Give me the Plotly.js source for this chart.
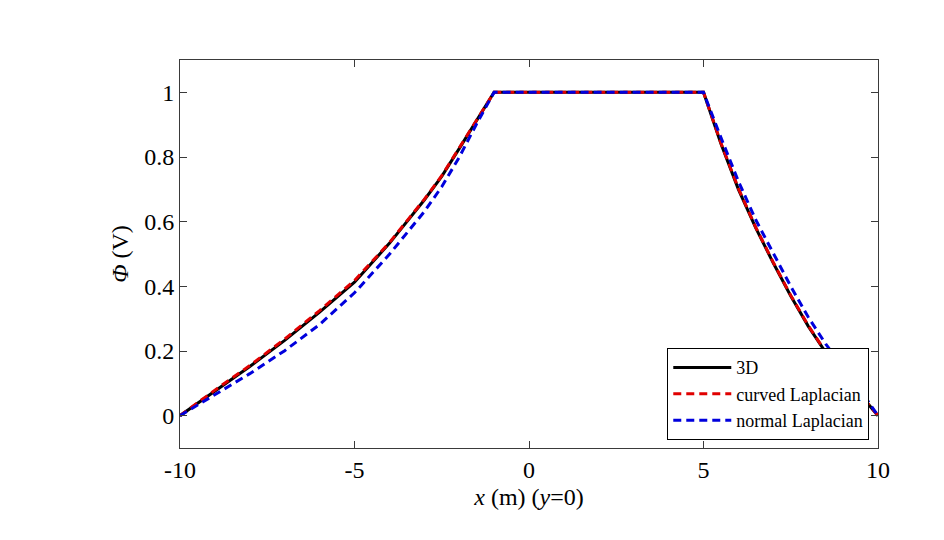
<!DOCTYPE html>
<html>
<head>
<meta charset="utf-8">
<script src="https://cdn.plot.ly/plotly-3.0.1.min.js"></script>
<style>
  html, body { margin: 0; padding: 0; background: #fff; }
  #chart { width: 944px; height: 540px; }
</style>
</head>
<body>
<div id="chart"></div>
<script>
// values
var x3d = [-10, -9, -8, -7, -6, -5, -4, -3, -2.5, -2, -1.5, -1, 5, 5.5, 6, 6.5, 7, 7.5, 8, 8.5, 9, 9.5, 10];
var phi3d = [0, 0.077, 0.152, 0.233, 0.32, 0.413, 0.533, 0.667, 0.74, 0.826, 0.914, 1, 1, 0.841, 0.70, 0.58, 0.472, 0.37, 0.277, 0.196, 0.128, 0.063, 0];

var xCurved = [-10, -9, -8, -7, -6, -5, -4, -3, -2.5, -2, -1.5, -1, 0, 1, 2, 3, 4, 5, 5.5, 6, 6.5, 7, 7.5, 8, 8.5, 9, 9.5, 10];
var phiCurved = [0, 0.079, 0.155, 0.237, 0.325, 0.418, 0.535, 0.669, 0.742, 0.828, 0.915, 1, 1, 1, 1, 1, 1, 1, 0.843, 0.703, 0.582, 0.474, 0.372, 0.279, 0.197, 0.129, 0.064, 0];

var xNormal = [-10, -9, -8, -7, -6, -5, -4, -3, -2.5, -2, -1.5, -1, 0, 1, 2, 3, 4, 5, 5.5, 6, 6.5, 7, 7.5, 8, 8.5, 9, 9.5, 10];
var phiNormal = [0, 0.064, 0.13, 0.201, 0.282, 0.38, 0.499, 0.631, 0.708, 0.799, 0.903, 1, 1, 1, 1, 1, 1, 1, 0.86, 0.725, 0.605, 0.50, 0.40, 0.305, 0.222, 0.15, 0.078, 0];

var seriesNames = ['3D', 'curved Laplacian', 'normal Laplacian'];

var serif = 'Liberation Serif, Times New Roman, serif';

var traces = [
  { x: x3d, y: phi3d, name: seriesNames[0], mode: 'lines', type: 'scatter',
    line: { color: '#000000', width: 3 } },
  { x: xCurved, y: phiCurved, name: seriesNames[1], mode: 'lines', type: 'scatter',
    line: { color: '#e00000', width: 3, dash: '8px,5px' } },
  { x: xNormal, y: phiNormal, name: seriesNames[2], mode: 'lines', type: 'scatter',
    line: { color: '#0000dd', width: 3, dash: '8px,5px' } }
];

var axisCommon = {
  showline: true, linecolor: '#3a3a3a', linewidth: 1, mirror: 'ticks',
  ticks: 'inside', ticklen: 7, tickcolor: '#3a3a3a', tickwidth: 1,
  showgrid: false, zeroline: false,
  tickfont: { family: serif, size: 24, color: '#000' }
};

var layout = {
  width: 944, height: 540,
  paper_bgcolor: '#fff', plot_bgcolor: '#fff',
  margin: { l: 180, r: 66, t: 60, b: 92, pad: 0 },
  showlegend: true,
  legend: {
    x: 0.9875, xanchor: 'right', y: 0.02, yanchor: 'bottom',
    bgcolor: '#fff', bordercolor: '#000', borderwidth: 1,
    font: { family: serif, size: 18, color: '#000' },
    itemwidth: 58,
    tracegroupgap: 0
  },
  xaxis: Object.assign({}, axisCommon, {
    range: [-10, 10], tickvals: [-10, -5, 0, 5, 10],
    ticktext: ['-10', '-5', '0', '5', '10'],
    title: { text: '<i>x</i> (m) (<i>y</i>=0)', font: { family: serif, size: 24, color: '#000' }, standoff: 6 }
  }),
  yaxis: Object.assign({}, axisCommon, {
    range: [-0.1, 1.1], tickvals: [0, 0.2, 0.4, 0.6, 0.8, 1],
    ticktext: ['0', '0.2', '0.4', '0.6', '0.8', '1'],
    title: { text: '<i>Φ</i> (V)', font: { family: serif, size: 24, color: '#000' }, standoff: 8 }
  })
};

Plotly.newPlot('chart', traces, layout, { displayModeBar: false, staticPlot: true });
</script>
</body>
</html>
